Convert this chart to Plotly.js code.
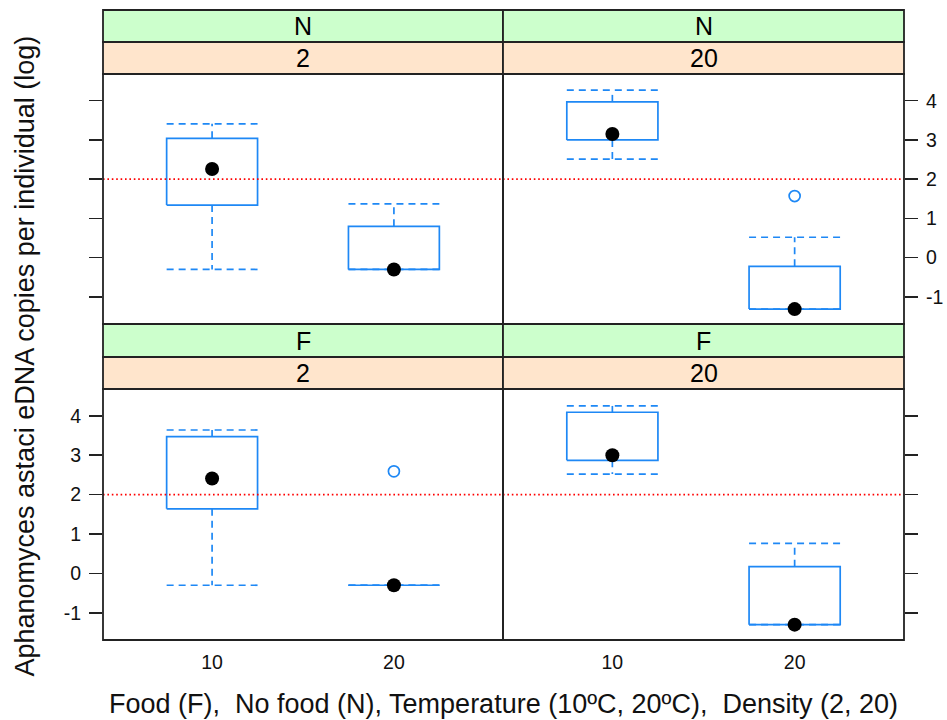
<!DOCTYPE html>
<html>
<head>
<meta charset="utf-8">
<script src="https://cdn.plot.ly/plotly-3.0.1.min.js"></script>
<style>
  html, body { margin: 0; padding: 0; background: #ffffff; }
  #chart { width: 947px; height: 720px; }
</style>
</head>
<body>
<div id="chart"></div>
<script>
// ---------------- data ----------------
// panels in order: [N-2, N-20, F-2, F-20]; inside each panel: temperature [10, 20]
const panelFood = ['N', 'N', 'F', 'F'];
const panelDensity = ['2', '20', '2', '20'];
const tempLabels = ['10', '20'];
const whiskerLow  = [[-0.30, -0.30], [2.51, -1.31], [-0.30, -0.30], [2.52, -1.30]];
const q1          = [[1.34, -0.30], [3.00, -1.31], [1.64, -0.30], [2.87, -1.30]];
const medians     = [[2.26, -0.30], [3.15, -1.31], [2.41, -0.30], [3.00, -1.30]];
const q3          = [[3.04, 0.80], [3.97, -0.22], [3.47, -0.30], [4.09, 0.17]];
const whiskerHigh = [[3.41, 1.37], [4.27, 0.52], [3.64, -0.30], [4.25, 0.76]];
const outliers    = [[[], []], [[], [1.57]], [[], [2.59]], [[], []]];
const refLine = 2;
const yTickVals = [-1, 0, 1, 2, 3, 4];
const yTickText = ['-1', '0', '1', '2', '3', '4'];
const xTitle = 'Food (F),  No food (N), Temperature (10ºC, 20ºC),  Density (2, 20)';
const yTitle = 'Aphanomyces astaci eDNA copies per individual (log)';

// ---------------- style ----------------
const W = 947, H = 720;
const FONT = 'Liberation Sans, Arial, Helvetica, sans-serif';
const BLUE = '#1e88f5';
const BORDER = '#222222';
const halfW = 0.25;           // half box width (category units)
const dashW = '7px,5px';
const yRange = [-1.69, 4.68];

// panel pixel geometry
const colX = [[103, 503], [503, 904]];
const rowPanel = [[74, 324], [389, 640]];
const rowStrip1 = [[10, 42], [324, 357]];
const rowStrip2 = [[42, 74], [357, 389]];
const px = v => v / W;
const py = v => 1 - v / H;

const traces = [];
const shapes = [];
const annotations = [];
const layout = {
  width: W, height: H,
  margin: {l: 0, r: 0, t: 0, b: 0},
  paper_bgcolor: '#ffffff', plot_bgcolor: '#ffffff',
  showlegend: false,
  font: {family: FONT, color: '#111111'}
};

for (let p = 0; p < 4; p++) {
  const row = Math.floor(p / 2), col = p % 2;
  const sfx = p === 0 ? '' : String(p + 1);
  const xa = 'x' + sfx, ya = 'y' + sfx;
  const isBottom = row === 1;
  const isRight = col === 1;

  layout['xaxis' + sfx] = {
    domain: [px(colX[col][0]), px(colX[col][1])],
    anchor: ya, range: [0.4, 2.6],
    tickvals: [1, 2], ticktext: tempLabels,
    showticklabels: isBottom,
    ticks: isBottom ? 'outside' : '', ticklen: 5, tickcolor: 'rgba(0,0,0,0)',
    tickfont: {size: 19.5, family: FONT, color: '#111111'},
    showgrid: false, zeroline: false, showline: false, fixedrange: true
  };
  layout['yaxis' + sfx] = {
    domain: [py(rowPanel[row][1]), py(rowPanel[row][0])],
    anchor: xa, range: yRange,
    tickvals: yTickVals, ticktext: yTickText,
    side: isRight ? 'right' : 'left',
    showticklabels: (row === 0 && isRight) || (row === 1 && !isRight),
    ticks: 'outside', ticklen: 13, tickwidth: 1.6, tickcolor: BORDER,
    tickfont: {size: 19.5, family: FONT, color: '#111111'},
    ticklabelstandoff: 4,
    showgrid: false, zeroline: false, showline: false, fixedrange: true
  };

  // reference line
  shapes.push({
    type: 'line', xref: xa + ' domain', yref: ya,
    x0: 0, x1: 1, y0: refLine, y1: refLine,
    line: {color: '#ff0000', width: 1.8, dash: '1.6px,2.8px'}
  });

  for (let t = 0; t < 2; t++) {
    const xp = t + 1;
    // box
    traces.push({
      type: 'scatter', mode: 'lines', xaxis: xa, yaxis: ya, hoverinfo: 'skip',
      x: [xp - halfW, xp + halfW, xp + halfW, xp - halfW, xp - halfW],
      y: [q1[p][t], q1[p][t], q3[p][t], q3[p][t], q1[p][t]],
      line: {color: BLUE, width: 1.7}
    });
    // whiskers + caps
    traces.push({
      type: 'scatter', mode: 'lines', xaxis: xa, yaxis: ya, hoverinfo: 'skip',
      x: [xp, xp, null, xp - halfW, xp + halfW, null, xp, xp, null, xp - halfW, xp + halfW],
      y: [q3[p][t], whiskerHigh[p][t], null, whiskerHigh[p][t], whiskerHigh[p][t], null,
          q1[p][t], whiskerLow[p][t], null, whiskerLow[p][t], whiskerLow[p][t]],
      line: {color: BLUE, width: 1.7, dash: dashW}
    });
    // outliers
    if (outliers[p][t].length) {
      traces.push({
        type: 'scatter', mode: 'markers', xaxis: xa, yaxis: ya, hoverinfo: 'skip',
        x: outliers[p][t].map(() => xp), y: outliers[p][t],
        marker: {symbol: 'circle-open', size: 11, color: BLUE, line: {width: 1.7, color: BLUE}}
      });
    }
    // median dot
    traces.push({
      type: 'scatter', mode: 'markers', xaxis: xa, yaxis: ya, hoverinfo: 'skip',
      x: [xp], y: [medians[p][t]],
      marker: {symbol: 'circle', size: 14, color: '#000000'}
    });
  }

  // panel border
  shapes.push({
    type: 'rect', xref: 'paper', yref: 'paper', layer: 'above',
    x0: px(colX[col][0]), x1: px(colX[col][1]),
    y0: py(rowPanel[row][1]), y1: py(rowPanel[row][0]),
    line: {color: BORDER, width: 1.8}
  });
  // strips
  shapes.push({
    type: 'rect', xref: 'paper', yref: 'paper', layer: 'above',
    x0: px(colX[col][0]), x1: px(colX[col][1]),
    y0: py(rowStrip1[row][1]), y1: py(rowStrip1[row][0]),
    fillcolor: '#ccffcc', line: {color: BORDER, width: 1.8}
  });
  shapes.push({
    type: 'rect', xref: 'paper', yref: 'paper', layer: 'above',
    x0: px(colX[col][0]), x1: px(colX[col][1]),
    y0: py(rowStrip2[row][1]), y1: py(rowStrip2[row][0]),
    fillcolor: '#ffe5cc', line: {color: BORDER, width: 1.8}
  });
  annotations.push({
    xref: 'paper', yref: 'paper', showarrow: false,
    x: px((colX[col][0] + colX[col][1]) / 2), y: py((rowStrip1[row][0] + rowStrip1[row][1]) / 2),
    xanchor: 'center', yanchor: 'middle',
    text: panelFood[p], font: {size: 25, family: FONT, color: '#000000'}
  });
  annotations.push({
    xref: 'paper', yref: 'paper', showarrow: false,
    x: px((colX[col][0] + colX[col][1]) / 2), y: py((rowStrip2[row][0] + rowStrip2[row][1]) / 2),
    xanchor: 'center', yanchor: 'middle',
    text: panelDensity[p], font: {size: 25, family: FONT, color: '#000000'}
  });
}

// axis titles
annotations.push({
  xref: 'paper', yref: 'paper', showarrow: false,
  x: px(503.5), y: py(704), xanchor: 'center', yanchor: 'middle',
  text: xTitle, font: {size: 27, family: FONT, color: '#111111'}
});
annotations.push({
  xref: 'paper', yref: 'paper', showarrow: false,
  x: px(24), y: py(356.5), xanchor: 'center', yanchor: 'middle', textangle: -90,
  text: yTitle, font: {size: 27, family: FONT, color: '#111111'}
});

layout.shapes = shapes;
layout.annotations = annotations;

Plotly.newPlot('chart', traces, layout, {staticPlot: true, displayModeBar: false});
</script>
</body>
</html>
